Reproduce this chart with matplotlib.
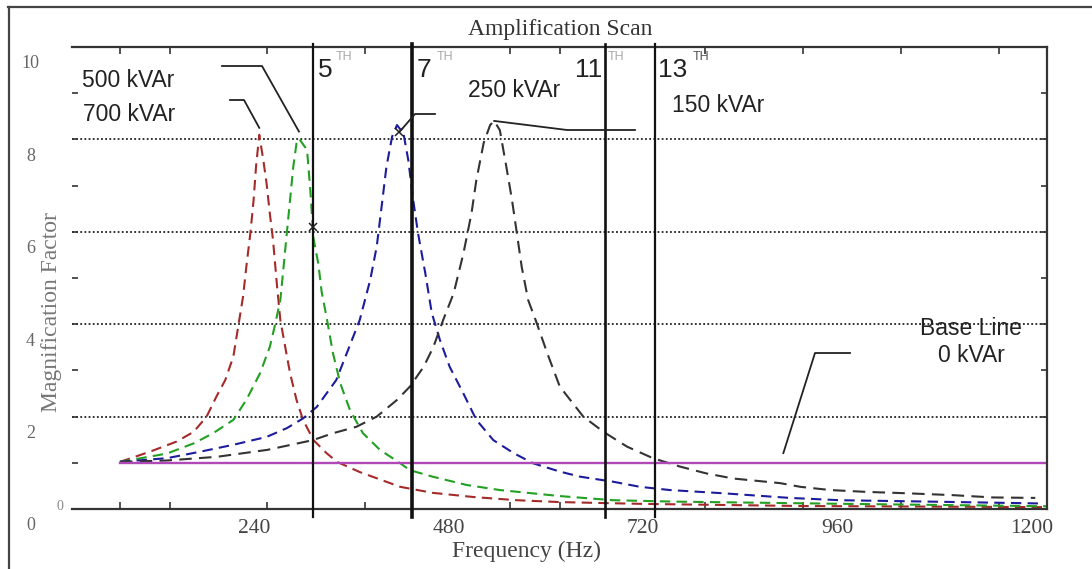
import numpy as np
import matplotlib
matplotlib.use('Agg')
import matplotlib.pyplot as plt
import matplotlib.transforms as mtransforms
from matplotlib.lines import Line2D

W, H = 1092, 569

# magnification factor vs frequency for each capacitor bank size
red_hz = [74, 111, 144, 165, 181, 193, 204, 214, 220, 226, 230, 235, 239, 242, 246, 251, 255, 259, 263, 268,
          272, 278, 284, 292, 300, 313, 329, 342, 370, 420, 460, 510, 564, 617, 667, 722, 914, 1218]
red_mf = [1.02, 1.24, 1.46, 1.67, 2.0, 2.43, 2.79, 3.30, 3.95, 4.60, 5.24, 5.97, 6.69, 7.41, 8.10, 7.55, 7.05, 6.40, 5.82, 4.81,
          4.09, 3.51, 2.94, 2.36, 1.93, 1.49, 1.21, 1.02, 0.80, 0.48, 0.35, 0.26, 0.19, 0.15, 0.13, 0.11, 0.065, 0.04]

green_hz = [74, 132, 165, 189, 214, 230, 247, 259, 265, 272, 276, 280, 284, 288, 292, 295, 305, 309, 313, 319,
            323, 329, 337, 346, 358, 374, 395, 420, 432, 460, 502, 543, 617, 683, 758, 975, 1218]
green_mf = [1.02, 1.20, 1.42, 1.64, 1.93, 2.36, 2.94, 3.51, 3.95, 4.52, 5.24, 5.97, 6.69, 7.41, 7.92, 8.02, 7.77, 6.9, 5.85, 5.3,
            4.7, 4.16, 3.37, 2.72, 2.14, 1.64, 1.28, 0.99, 0.84, 0.70, 0.52, 0.41, 0.28, 0.19, 0.16, 0.11, 0.06]

blue_hz = [74, 132, 173, 214, 255, 280, 300, 317, 341, 354, 370, 383, 391, 397, 403, 410, 416, 424, 430, 436,
           442, 451, 459, 469, 481, 498, 514, 535, 560, 584, 617, 642, 683, 716, 753, 819, 901, 963, 1074, 1210]
blue_mf = [1.02, 1.10, 1.24, 1.39, 1.56, 1.75, 1.96, 2.21, 2.79, 3.37, 4.09, 4.96, 5.68, 6.54, 7.41, 8.06, 8.31, 8.13, 7.55, 6.69,
           5.97, 5.10, 4.24, 3.66, 3.08, 2.50, 1.93, 1.49, 1.21, 0.99, 0.81, 0.70, 0.59, 0.48, 0.41, 0.34, 0.24, 0.19, 0.16, 0.12]

black_hz = [74, 132, 194, 256, 312, 337, 366, 391, 416, 432, 449, 461, 473, 486, 498, 508, 514, 523, 531, 536,
            543, 551, 558, 564, 570, 578, 588, 602, 617, 646, 671, 700, 732, 765, 798, 831, 889, 914, 951, 996,
            1046, 1102, 1152, 1204]
black_mf = [1.02, 1.05, 1.13, 1.28, 1.49, 1.64, 1.78, 2.0, 2.36, 2.65, 3.08, 3.51, 4.09, 4.67, 5.53, 6.40, 7.12, 7.92, 8.31, 8.40,
            8.20, 7.41, 6.69, 5.97, 5.24, 4.52, 4.05, 3.35, 2.65, 2.0, 1.67, 1.35, 1.10, 0.92, 0.77, 0.66, 0.56, 0.48, 0.41, 0.37,
            0.34, 0.30, 0.25, 0.24]

baseline_hz = [74, 1218]
baseline_mf = [1.0, 1.0]

harmonic_orders = ['5', '7', '11', '13']
harmonic_hz = [312, 434, 673, 735]

x_tick_values = [240, 480, 720, 960, 1200]
x_minor_ticks = [74, 136, 256, 377, 556, 617, 796, 917, 1038, 1159]
y_tick_values = [0, 2, 4, 6, 8, 10]
y_minor_ticks = [1, 3, 5, 7, 9]

SERIF = 'Liberation Serif'
SANS = 'Liberation Sans'
plt.rcParams['font.family'] = SERIF


def fx(x):
    return x / W


def fy(y):
    return 1 - y / H


fig = plt.figure(figsize=(W / 100, H / 100), dpi=100)
ax = fig.add_axes([fx(72), fy(509), 975 / W, 462 / H])

ax.plot(red_hz, red_mf, color='#a52a2a', lw=1.5, ls=(0, (5, 3)))
ax.plot(green_hz, green_mf, color='#22a022', lw=1.5, ls=(0, (5, 3)))
ax.plot(blue_hz, blue_mf, color='#1c1c9c', lw=1.5, ls=(0, (5, 3)))
ax.plot(black_hz, black_mf, color='#333333', lw=1.5, ls=(0, (6, 3.5)))
ax.plot(baseline_hz, baseline_mf, color='#b048b8', lw=1.7)

for h, w in zip(harmonic_hz, [1.6, 2.6, 1.9, 1.6]):
    ax.axvline(h, ymin=-0.018, ymax=1.007, color='#111111', lw=w, clip_on=False, zorder=3)

ax.set_xlim(14.8, 1218.5)
ax.set_ylim(0, 10)

for side in ['top', 'right', 'bottom']:
    ax.spines[side].set_color('#333333')
    ax.spines[side].set_linewidth(1.6)
ax.spines['left'].set_visible(False)

ax.yaxis.grid(True, linestyle=(0, (1, 1.3)), color='#222222', lw=1.3)

ax.set_xticks(x_tick_values)
ax.set_xticks(x_minor_ticks, minor=True)
ax.set_xticklabels([str(v) for v in x_tick_values])
ax.tick_params(axis='x', which='major', length=0, pad=7, labelsize=15.5, labelcolor='#444444')
ax.tick_params(axis='x', which='minor', direction='in', length=5, width=1.2, color='#333333',
               top=True, bottom=True)

ax.set_yticks(y_tick_values)
ax.set_yticks(y_minor_ticks, minor=True)
ax.set_yticklabels([str(v) for v in y_tick_values])
ax.tick_params(axis='y', which='both', direction='in', length=4, width=1.2, color='#333333',
               left=True, right=True)
ax.tick_params(axis='y', which='major', pad=30, labelsize=13, labelcolor='#666666')
shift = mtransforms.ScaledTranslation(0, -15 / 100, fig.dpi_scale_trans)
for lab in ax.get_yticklabels():
    lab.set_horizontalalignment('center')
    lab.set_transform(lab.get_transform() + shift)

fig.text(fx(60), fy(507), '0', ha='center', va='center', fontsize=10, color='#888888')

# titles
fig.text(fx(560), fy(35), 'Amplification Scan', ha='center', va='baseline', fontsize=17, color='#333333')
fig.text(fx(526), fy(557), 'Frequency (Hz)', ha='center', va='baseline', fontsize=17, color='#444444')
fig.text(fx(52), fy(312), 'Magnification Factor', ha='center', va='center', rotation=90,
         fontsize=17, color='#777777')

# harmonic labels
harm_txt = [(318, 336), (417, 437), (575, 608), (658, 693)]
th_colors = ['#aaaaaa', '#aaaaaa', '#aaaaaa', '#555555']
for order, (xd, xs), c in zip(harmonic_orders, harm_txt, th_colors):
    fig.text(fx(xd), fy(77), order, family=SANS, fontsize=19, color='#222222', va='baseline')
    fig.text(fx(xs), fy(60), 'TH', family=SANS, fontsize=9, color=c, va='baseline')

# bank size labels
labels = [('500 kVAr', 82, 87), ('700 kVAr', 83, 121), ('250 kVAr', 468, 97), ('150 kVAr', 672, 112)]
for txt, x, y in labels:
    fig.text(fx(x), fy(y), txt, family=SANS, fontsize=16.5, color='#222222', va='baseline')
fig.text(fx(971), fy(335), 'Base Line', family=SANS, fontsize=16.5, color='#222222', ha='center', va='baseline')
fig.text(fx(971), fy(362), '0 kVAr', family=SANS, fontsize=16.5, color='#222222', ha='center', va='baseline')


def peak(xs, ys):
    i = int(np.argmax(ys))
    return xs[i], ys[i]


def leader(points_px, target):
    tx, ty = ax.transData.transform(target)
    xs = [p[0] for p in points_px] + [tx]
    ys = [H - p[1] for p in points_px] + [ty]
    fig.add_artist(Line2D(xs, ys, transform=mtransforms.IdentityTransform(), color='#222222', lw=1.3))


gx, gy = peak(green_hz, green_mf)
rx, ry = peak(red_hz, red_mf)
bx, by = peak(blue_hz, blue_mf)
kx, ky = peak(black_hz, black_mf)
leader([(222, 66), (262, 66)], (gx, gy + 0.15))
leader([(230, 100), (244, 100)], (rx, ry + 0.15))
leader([(435, 114), (415, 114)], (bx + 3, by - 0.15))
leader([(635, 130), (567, 130)], (kx, ky))
leader([(850, 353), (815, 353)], (893, baseline_mf[0] + 0.21))

ax.plot([bx + 3], [by - 0.15], marker='x', ms=6, color='#222222', mew=1.1)
ax.plot([harmonic_hz[0]], [np.interp(harmonic_hz[0], green_hz, green_mf)], marker='x', ms=6,
        color='#222222', mew=1.1, zorder=4)

# outer frame
fig.add_artist(Line2D([fx(8), 1], [fy(7), fy(7)], color='#444444', lw=1.6))
fig.add_artist(Line2D([fx(9), fx(9)], [fy(7), 0], color='#444444', lw=1.6))

fig.savefig('out.png', dpi=100)
